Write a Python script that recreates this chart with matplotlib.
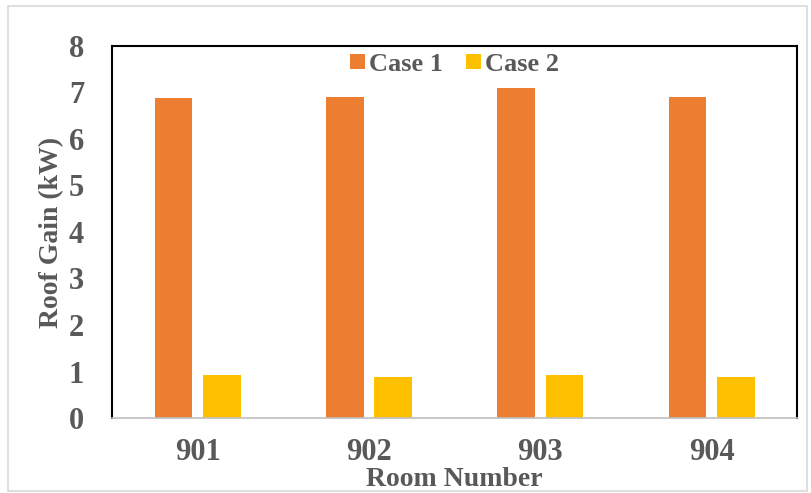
import matplotlib.pyplot as plt
import numpy as np
from matplotlib.patches import Rectangle

rooms = ['901', '902', '903', '904']
case1 = [6.87, 6.91, 7.10, 6.89]
case2 = [0.92, 0.88, 0.92, 0.88]

plt.rcParams['font.family'] = 'Liberation Serif'
plt.rcParams['font.weight'] = 'bold'
plt.rcParams['axes.labelweight'] = 'bold'
grey = '#595959'

fig = plt.figure(figsize=(8.11, 4.93), dpi=100)
ax = fig.add_axes([0.138, 0.152, 0.845, 0.755])

# outer chart border
fig.patches.append(Rectangle((0.010, 0.004), 0.985, 0.984, transform=fig.transFigure,
                             fill=False, edgecolor='#d9d9d9', lw=1.2))

x = np.arange(len(rooms))
w = 0.22
ax.bar(x - 0.141, case1, w, color='#ED7D31', label='Case 1')
ax.bar(x + 0.141, case2, w, color='#FFC000', label='Case 2')

ax.set_xlim(-0.5, 3.5)
ax.set_ylim(0, 8)
ax.set_xticks(x)
ax.set_xticklabels(rooms)
ax.set_yticks(range(0, 9))

for s in ['left', 'top', 'right']:
    ax.spines[s].set_color('black')
    ax.spines[s].set_linewidth(1.5)
ax.spines['bottom'].set_color('#bfbfbf')
ax.spines['bottom'].set_linewidth(1.2)

ax.tick_params(axis='both', length=0, labelsize=22, labelcolor=grey)
ax.tick_params(axis='y', pad=20)
ax.tick_params(axis='x', pad=14)

ax.set_xlabel('Room Number', fontsize=20, color=grey, labelpad=0)
ax.set_ylabel('Roof Gain (kW)', fontsize=20, color=grey, labelpad=3)

leg = ax.legend(loc='upper center', bbox_to_anchor=(0.5, 1.045), ncol=2, frameon=False,
                fontsize=19, handlelength=0.55, handleheight=0.55, handletextpad=0.15,
                columnspacing=0.9)
for t in leg.get_texts():
    t.set_color(grey)

fig.savefig('out.png', dpi=100)
